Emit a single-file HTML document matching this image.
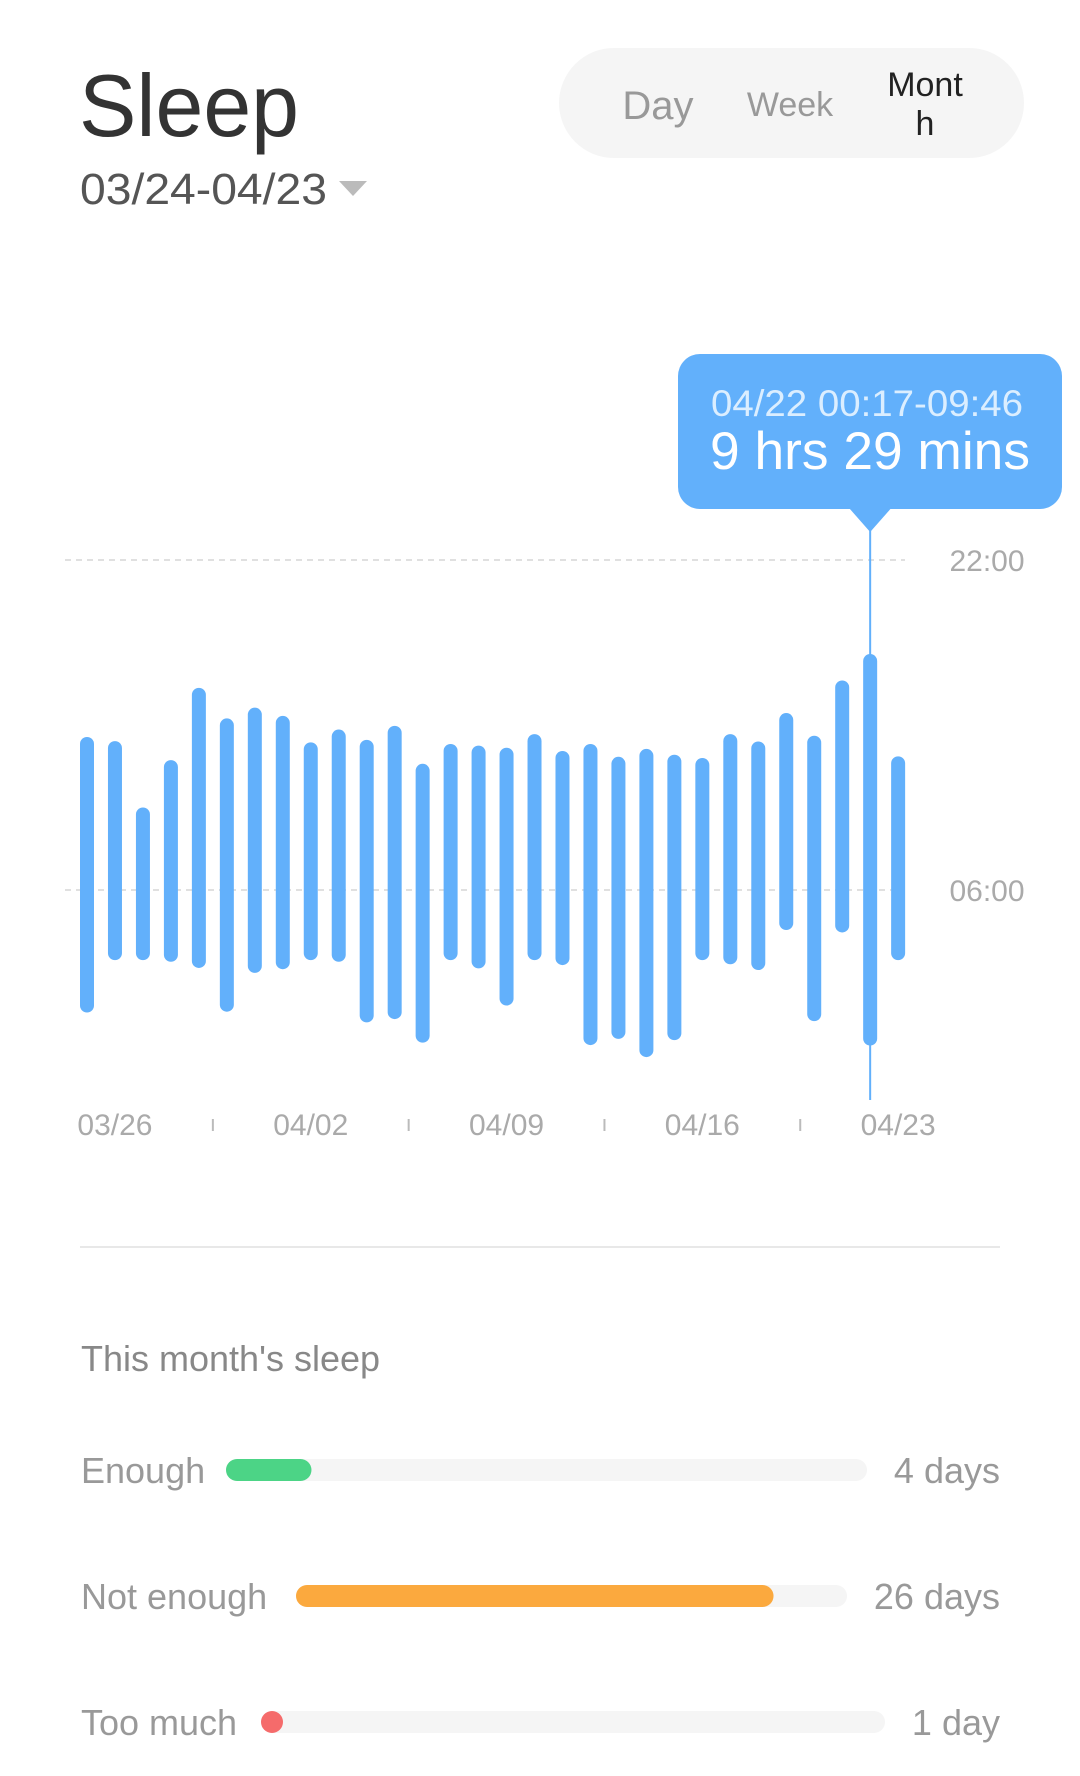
<!DOCTYPE html>
<html><head><meta charset="utf-8">
<style>
html,body{margin:0;padding:0;background:#fff;width:1080px;height:1776px;overflow:hidden;font-family:"Liberation Sans",sans-serif}
svg{display:block}
</style></head>
<body>
<svg id="page" width="1080" height="1776" viewBox="0 0 1080 1776">
  <text x="79" y="136" font-size="88" fill="#333" textLength="220" lengthAdjust="spacingAndGlyphs">Sleep</text>
  <g>
    <text x="80" y="204" font-size="44" fill="#555" textLength="247" lengthAdjust="spacingAndGlyphs">03/24-04/23</text>
    <polygon points="339,181 367,181 353,196" fill="#bbb"/>
  </g>
  <rect x="559" y="48" width="465" height="110" rx="55" fill="#f5f5f5"/>
  <text x="658" y="119" font-size="40" fill="#999" text-anchor="middle">Day</text>
  <text x="790" y="116" font-size="34" fill="#999" text-anchor="middle">Week</text>
  <g>
    <text x="925" y="96" font-size="34" fill="#222" text-anchor="middle">Mont</text>
    <text x="925" y="135" font-size="34" fill="#222" text-anchor="middle">h</text>
  </g>
  <g id="chart"></g>
  <line x1="80" y1="1247" x2="1000" y2="1247" stroke="#e8e8e8" stroke-width="2"/>
  <text x="81" y="1371" font-size="36" fill="#888">This month's sleep</text>
  <g id="summary"></g>
</svg>
<script>
const dates = ["03/25","03/26","03/27","03/28","03/29","03/30","03/31","04/01","04/02","04/03","04/04","04/05","04/06","04/07","04/08","04/09","04/10","04/11","04/12","04/13","04/14","04/15","04/16","04/17","04/18","04/19","04/20","04/21","04/22","04/23"];
// hours after 22:00
const sleepStart = [4.29,4.39,6.0,4.85,3.10,3.84,3.58,3.78,4.42,4.11,4.36,4.02,4.94,4.46,4.50,4.55,4.22,4.63,4.46,4.77,4.58,4.72,4.80,4.22,4.40,3.71,4.26,2.92,2.28,4.76];
const sleepEnd = [10.97,9.70,9.70,9.74,9.89,10.95,10.01,9.92,9.70,9.74,11.21,11.13,11.70,9.70,9.90,10.80,9.70,9.82,11.76,11.61,12.05,11.64,9.70,9.80,9.94,8.97,11.18,9.03,11.77,9.70];
const yTickLabels = ["22:00","06:00"];
const yTickValues = [0,8];
const xLabelDates = ["03/26","04/02","04/09","04/16","04/23"];
const selectedDate = "04/22";
const tooltipRange = "04/22  00:17-09:46";
const tooltipDuration = "9 hrs 29 mins";
const summaryLabels = ["Enough","Not enough","Too much"];
const summaryDays = [4,26,1];
const summaryText = ["4 days","26 days","1 day"];

const NS="http://www.w3.org/2000/svg";
function mk(tag,attrs,parent){const e=document.createElementNS(NS,tag);for(const k in attrs)e.setAttribute(k,attrs[k]);parent.appendChild(e);return e;}
const chart=document.getElementById('chart');
const x0=87, step=27.97;
function xPos(i){return x0+i*step;}
function yPos(h){return 560+h*41.25;}

yTickValues.forEach((v,i)=>{
  const l=mk('line',{x1:65,x2:905,y1:yPos(v),y2:yPos(v),stroke:'#d6d6d6','stroke-width':1.5,'stroke-dasharray':'6 5'},chart);
  
  
  const t=mk('text',{x:987,y:yPos(v)+11,'font-size':30,fill:'#aaa','text-anchor':'middle'},chart);
  t.textContent=yTickLabels[i];
  
  
});

const sel=dates.indexOf(selectedDate);
const sx=xPos(sel);
const vl=mk('line',{x1:sx,x2:sx,y1:530,y2:1100,stroke:'#62b0fb','stroke-width':2},chart);



dates.forEach((d,i)=>{
  const top=yPos(sleepStart[i]), bot=yPos(sleepEnd[i]);
  const r=mk('rect',{x:xPos(i)-7,y:top,width:14,height:bot-top,rx:7,fill:'#62b0fb'},chart);
  
  
});

xLabelDates.forEach((d,k)=>{
  const i=dates.indexOf(d);
  const t=mk('text',{x:xPos(i),y:1135,'font-size':30,fill:'#aaa','text-anchor':'middle'},chart);
  t.textContent=d;
  
  
  if(k<xLabelDates.length-1){
    const j=dates.indexOf(xLabelDates[k+1]);
    const mx=(xPos(i)+xPos(j))/2;
    const tk=mk('line',{x1:mx,x2:mx,y1:1119,y2:1131,stroke:'#bbb','stroke-width':2},chart);
    
    
  }
});

const tg=mk('g',{},chart);


mk('rect',{x:678,y:354,width:384,height:155,rx:22,fill:'#62b0fb'},tg);
mk('polygon',{points:(sx-22)+',507 '+(sx+22)+',507 '+sx+',532'},tg);
tg.lastChild.setAttribute('fill','#62b0fb');
const t1=mk('text',{x:711,y:416,'font-size':37,fill:'#dbeeff',textLength:312,lengthAdjust:'spacingAndGlyphs'},tg);
t1.textContent=tooltipRange;


const t2=mk('text',{x:710,y:469,'font-size':53,fill:'#fff',textLength:320,lengthAdjust:'spacingAndGlyphs'},tg);
t2.textContent=tooltipDuration;



const sum=document.getElementById('summary');
const rowY=[1470,1596,1722];
const trackX=[226,296,261], trackEnd=[867,847,885];
const colors=['#4cd486','#fba93e','#f56b6b'];
const total=30;
summaryLabels.forEach((lab,i)=>{
  const g=mk('g',{},sum);
  
  
  const l=mk('text',{x:81,y:rowY[i]+13,'font-size':36,fill:'#999'},g);
  l.textContent=lab;
  
  
  const w=trackEnd[i]-trackX[i];
  const tr=mk('rect',{x:trackX[i],y:rowY[i]-11,width:w,height:22,rx:11,fill:'#f5f5f5'},g);
  
  
  const fw=Math.max(22,w*summaryDays[i]/total);
  const f=mk('rect',{x:trackX[i],y:rowY[i]-11,width:fw,height:22,rx:11,fill:colors[i]},g);
  
  
  const v=mk('text',{x:1000,y:rowY[i]+13,'font-size':36,fill:'#999','text-anchor':'end'},g);
  v.textContent=summaryText[i];
  
  
});
</script>
</body></html>
